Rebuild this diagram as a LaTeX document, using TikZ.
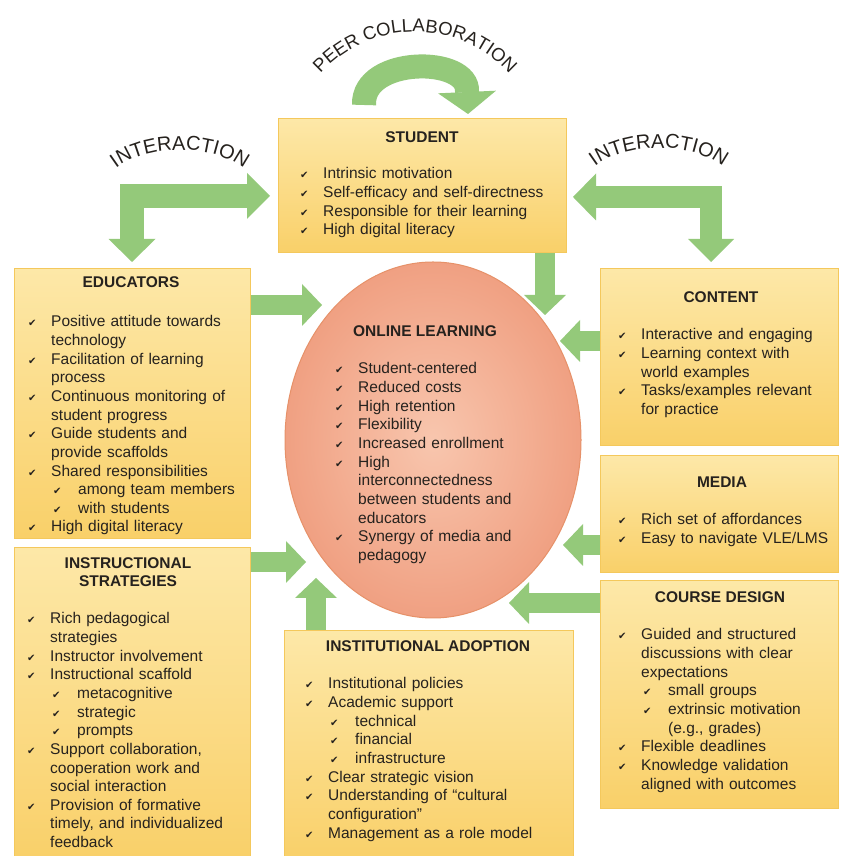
\documentclass[tikz,border=0pt]{standalone}
\usepackage{fontspec}
\setmainfont{Liberation Sans}
\newfontfamily\symfont{DejaVu Sans}
\usetikzlibrary{arrows.meta,decorations.text,shapes.geometric}

\definecolor{boxtop}{RGB}{253,232,168}
\definecolor{boxbot}{RGB}{249,208,105}
\definecolor{boxedge}{RGB}{244,200,92}
\definecolor{arrowgreen}{RGB}{148,201,122}
\definecolor{olin}{RGB}{248,198,174}
\definecolor{olout}{RGB}{240,160,130}
\definecolor{oledge}{RGB}{230,145,105}
\definecolor{ink}{RGB}{38,34,30}

\newcommand{\chk}{{\symfont\fontsize{10}{10}\selectfont ✔}}
\newcommand{\itm}[1]{\par\hangindent=23pt\hangafter=1\noindent\rule{0pt}{12pt}\makebox[23pt][l]{\chk}#1}
\newcommand{\subitm}[1]{\par\hangindent=50pt\hangafter=1\noindent\rule{0pt}{12pt}\hspace*{25pt}\makebox[25pt][l]{\chk}#1}

\tikzset{
  box/.style={draw=boxedge, line width=0.8pt, top color=boxtop, bottom color=boxbot, anchor=north west, inner sep=0},
  title/.style={font=\fontsize{15.5}{18.65}\selectfont\bfseries, anchor=base, inner sep=0},
  checklist/.style={anchor=north west, inner sep=0, text width=#1, align=left},
  greenarrow/.style={draw=arrowgreen, line width=20pt, -{Triangle[width=42pt,length=20pt,line width=0pt]}},
  greenpair/.style={draw=arrowgreen, line width=24pt, {Triangle[width=47pt,length=23pt,line width=0pt]}-{Triangle[width=46pt,length=23pt,line width=0pt]}},
  bowtext/.style={decorate, decoration={text along path, text align=center, text color=ink, text={#1}}}
}

\begin{document}
\begin{tikzpicture}[x=1pt, y=1pt, font=\fontsize{15.5}{18.65}\selectfont, text=ink]
\useasboundingbox (0,0) rectangle (840,856);
\fill[white] (0,0) rectangle (840,856);

% boxes
\node[box, minimum width=288pt, minimum height=134pt] (student) at (278,738) {};
\node[box, minimum width=236pt, minimum height=270pt] (educators) at (14,588) {};
\node[box, minimum width=236pt, minimum height=313pt] (instr) at (14,309) {};
\node[box, minimum width=238pt, minimum height=177pt] (content) at (600,588) {};
\node[box, minimum width=238pt, minimum height=117pt] (media) at (600,401) {};
\node[box, minimum width=238pt, minimum height=228pt] (course) at (600,276) {};
\node[box, minimum width=289pt, minimum height=230pt] (inst) at (284,226) {};
\node[ellipse, minimum width=296pt, minimum height=356pt, inner sep=0, draw=oledge, line width=1pt,
      inner color=olin, outer color=olout] (online) at (433,416) {};

% arrows into the centre
\coordinate (tipS) at (545,541);
\coordinate (tipE) at (322,551);
\coordinate (tipC) at (560,515);
\coordinate (tipM) at (563,311);
\coordinate (tipD) at (509,253);
\coordinate (tipI) at (306,294);
\coordinate (tipA) at (316,278);
\draw[greenarrow] (student.south -| tipS) -- (tipS);
\draw[greenarrow] (educators.east |- tipE) -- (tipE);
\draw[greenarrow] (content.west |- tipC) -- (tipC);
\draw[greenarrow] (media.west |- tipM) -- (tipM);
\draw[greenarrow] (course.west |- tipD) -- (tipD);
\draw[greenarrow] (instr.east |- tipI) -- (tipI);
\draw[greenarrow] (inst.north -| tipA) -- (tipA);

% interaction arrows
\coordinate (iL1) at (132,594);
\coordinate (iL2) at (270,660);
\coordinate (iR1) at (573,659);
\coordinate (iR2) at (711,594);
\draw[greenpair] (iL1) |- (iL2);
\draw[greenpair, line width=22pt] (iR1) -| (iR2);

% peer collaboration loop
\coordinate (peerA) at (364,751);
\coordinate (peerB) at (468,742);
\draw[greenarrow, line width=24pt, -{Triangle[width=58pt,length=22pt,line width=0pt]}]
  (peerA) .. controls (362,800) and (470,800) .. (467,764) -- (peerB);

% curved labels
\path[bowtext={|\fontsize{18.5}{18.5}\selectfont|PEER COLLABORATION}]
  (415,696) ++(142:128) arc[start angle=142, end angle=38, radius=128];
\path[bowtext={|\fontsize{20}{20}\selectfont|INTERACTION}]
  (180,660) ++(172:80 and 46) arc[start angle=172, end angle=8, x radius=80, y radius=46];
\path[bowtext={|\fontsize{20}{20}\selectfont|INTERACTION}]
  (659,662) ++(172:80 and 46) arc[start angle=172, end angle=8, x radius=80, y radius=46];

% titles
\node[title] (student-t) at (422,713) {STUDENT};
\node[title] (educators-t) at (131,568) {EDUCATORS};
\node[title, anchor=north, text width=220pt, align=center] (instr-t) at (128,300)
  {\rule{0pt}{12pt}INSTRUCTIONAL\\STRATEGIES};
\node[title] (content-t) at (721,553) {CONTENT};
\node[title] (media-t) at (722,368) {MEDIA};
\node[title] (course-t) at (720,253) {COURSE DESIGN};
\node[title] (inst-t) at (428,204) {INSTITUTIONAL ADOPTION};
\node[title] (online-t) at (425,519) {ONLINE LEARNING};

% lists
\node[checklist=260pt] (student-l) at (300,696) {
  \itm{Intrinsic motivation}
  \itm{Self-efficacy and self-directness}
  \itm{Responsible for their learning}
  \itm{High digital literacy}\par};
\node[checklist=220pt] (educators-l) at (28,548) {
  \itm{Positive attitude towards\newline technology}
  \itm{Facilitation of learning\newline process}
  \itm{Continuous monitoring of\newline student progress}
  \itm{Guide students and\newline provide scaffolds}
  \itm{Shared responsibilities}
  \subitm{among team members}
  \subitm{with students}
  \itm{High digital literacy}\par};
\node[checklist=220pt] (instr-l) at (27,251) {
  \itm{Rich pedagogical\newline strategies}
  \itm{Instructor involvement}
  \itm{Instructional scaffold}
  \subitm{metacognitive}
  \subitm{strategic}
  \subitm{prompts}
  \itm{Support collaboration,\newline cooperation work and\newline social interaction}
  \itm{Provision of formative\newline timely, and individualized\newline feedback}\par};
\node[checklist=215pt] (content-l) at (618,535) {
  \itm{Interactive and engaging}
  \itm{Learning context with\newline world examples}
  \itm{Tasks/examples relevant\newline for practice}\par};
\node[checklist=215pt] (media-l) at (618,350) {
  \itm{Rich set of affordances}
  \itm{Easy to navigate VLE/LMS}\par};
\node[checklist=215pt] (course-l) at (618,235) {
  \itm{Guided and structured\newline discussions with clear\newline expectations}
  \subitm{small groups}
  \subitm{extrinsic motivation\newline (e.g., grades)}
  \itm{Flexible deadlines}
  \itm{Knowledge validation\newline aligned with outcomes}\par};
\node[checklist=260pt] (inst-l) at (305,186) {
  \itm{Institutional policies}
  \itm{Academic support}
  \subitm{technical}
  \subitm{financial}
  \subitm{infrastructure}
  \itm{Clear strategic vision}
  \itm{Understanding of ``cultural\newline configuration''}
  \itm{Management as a role model}\par};
\node[checklist=230pt] (online-l) at (335,501) {
  \itm{Student-centered}
  \itm{Reduced costs}
  \itm{High retention}
  \itm{Flexibility}
  \itm{Increased enrollment}
  \itm{High\newline interconnectedness\newline between students and\newline educators}
  \itm{Synergy of media and\newline pedagogy}\par};
\end{tikzpicture}
\end{document}
